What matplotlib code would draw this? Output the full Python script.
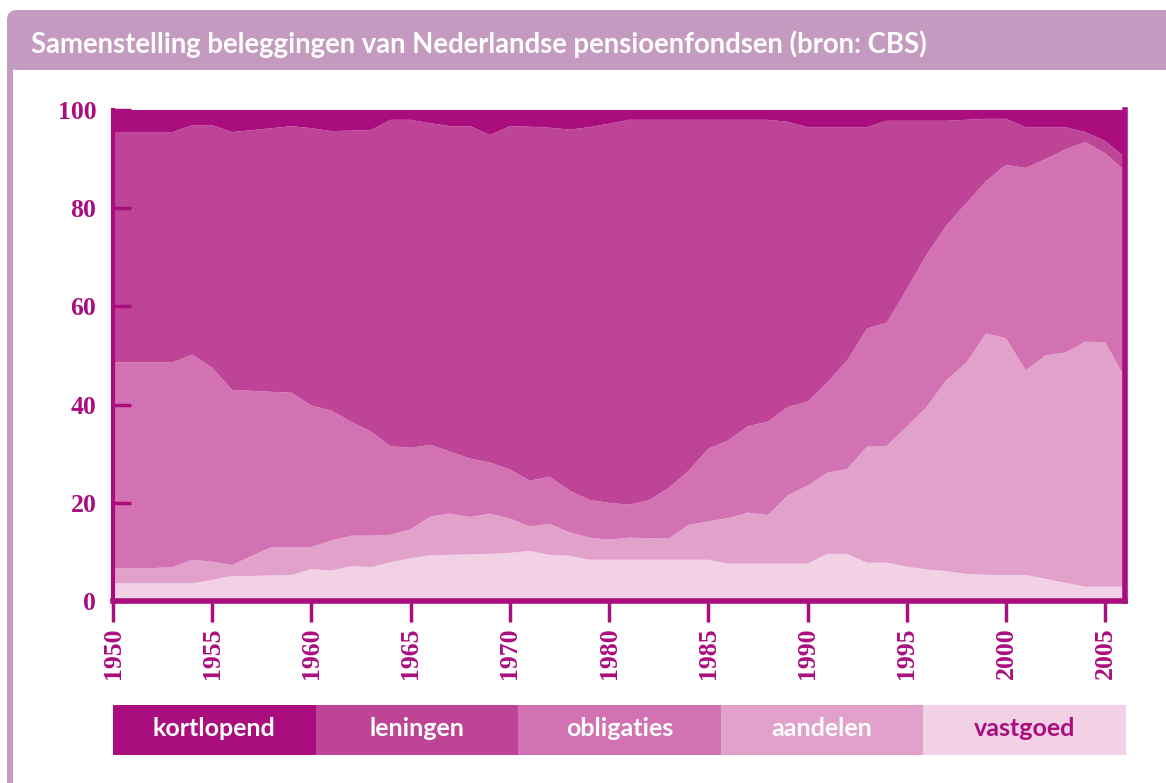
import matplotlib
matplotlib.use("Agg")
import matplotlib.pyplot as plt
from matplotlib.patches import Rectangle, FancyBboxPatch

# Jaren (1970-1980 in stappen van 2 jaar, op de as samengedrukt)
years = list(range(1950, 1971)) + [1972, 1974, 1976, 1978] + list(range(1980, 2007))

# Aandeel per beleggingscategorie (%)
vastgoed = [3.6, 3.6, 3.6, 3.6, 3.6, 4.3, 5.1, 5.1, 5.2, 5.3, 6.5, 6.2, 7.1, 6.9, 7.9, 8.7,
            9.3, 9.4, 9.5, 9.6, 9.8, 10.2, 9.4, 9.2, 8.4, 8.4, 8.4, 8.4, 8.4, 8.4, 8.4, 7.6,
            7.6, 7.6, 7.6, 7.6, 9.6, 9.6, 7.8, 7.8, 7.0, 6.4, 6.1, 5.5, 5.3, 5.3, 5.3, 4.5,
            3.7, 2.9, 2.9, 2.9]
aandelen = [3.1, 3.1, 3.1, 3.3, 4.8, 3.7, 2.2, 4.1, 5.8, 5.7, 4.5, 6.1, 6.2, 6.4, 5.6, 5.9,
            7.9, 8.4, 7.6, 8.2, 7.0, 5.0, 6.3, 4.8, 4.5, 4.1, 4.5, 4.4, 4.3, 7.1, 7.8, 9.3,
            10.4, 9.9, 13.9, 15.9, 16.5, 17.3, 23.6, 23.8, 28.5, 33.1, 38.9, 43.0, 49.2, 48.2,
            41.7, 45.5, 46.9, 49.9, 49.8, 42.6]
obligaties = [41.9, 41.9, 41.9, 41.7, 41.8, 39.5, 35.7, 33.6, 31.6, 31.4, 28.8, 26.5, 23.2,
              21.2, 18.0, 16.6, 14.6, 12.6, 11.9, 10.4, 10.0, 9.3, 9.6, 8.5, 7.7, 7.5, 6.7,
              7.7, 10.3, 11.0, 14.8, 15.8, 17.6, 19.0, 18.0, 17.1, 18.4, 22.1, 24.1, 25.1,
              28.0, 31.0, 31.5, 32.5, 31.0, 35.3, 41.2, 40.0, 41.4, 40.7, 38.5, 42.1]
leningen = [46.9, 46.9, 46.9, 46.9, 46.7, 49.4, 52.5, 53.1, 53.7, 54.3, 56.5, 56.9, 59.3,
            61.4, 66.5, 66.8, 65.5, 66.3, 67.7, 66.7, 69.9, 72.1, 71.1, 73.5, 75.9, 77.2,
            78.4, 77.5, 75.0, 71.5, 67.0, 65.3, 62.4, 61.5, 58.1, 55.9, 52.0, 47.5, 41.0,
            41.1, 34.3, 27.3, 21.3, 17.0, 12.7, 9.4, 8.3, 6.5, 4.5, 2.0, 2.5, 2.8]
kortlopend = [4.5, 4.5, 4.5, 4.5, 3.1, 3.1, 4.5, 4.1, 3.7, 3.3, 3.7, 4.3, 4.2, 4.1, 2.0, 2.0,
              2.7, 3.3, 3.3, 5.1, 3.3, 3.4, 3.6, 4.0, 3.5, 2.8, 2.0, 2.0, 2.0, 2.0, 2.0, 2.0,
              2.0, 2.0, 2.4, 3.5, 3.5, 3.5, 3.5, 2.2, 2.2, 2.2, 2.2, 2.0, 1.8, 1.8, 3.5, 3.5,
              3.5, 4.5, 6.3, 9.6]

categories = ["kortlopend", "leningen", "obligaties", "aandelen", "vastgoed"]
colors = ["#AA0E7E", "#BE4498", "#D272B2", "#E2A1CB", "#F2D0E6"]
tick_years = [1950, 1955, 1960, 1965, 1970, 1980, 1985, 1990, 1995, 2000, 2005]

title = "Samenstelling beleggingen van Nederlandse pensioenfondsen (bron: CBS)"
magenta = "#AA0E7E"
frame = "#C49AC0"


def as_pos(year):
    # jaren 70 staan in halve stappen op de as
    if year <= 1970:
        return year - 1950
    if year <= 1980:
        return 20 + (year - 1970) / 2
    return year - 1955


W, H = 1166, 783
fig = plt.figure(figsize=(W / 100, H / 100), dpi=100)

# kader en titelbalk
fig.patches.append(Rectangle((7 / W, 0), 5.5 / W, (H - 60) / H, transform=fig.transFigure,
                             facecolor=frame, edgecolor="none", zorder=0))
fig.patches.append(FancyBboxPatch((7, H - 70), W + 20, 60,
                                  boxstyle="round,pad=0,rounding_size=10",
                                  transform=None, facecolor=frame, edgecolor="none", zorder=0))
fig.text(31 / W, 1 - 44 / H, title, color="white", fontsize=19.8, fontweight="bold",
         family="Lato", va="center", ha="left")

ax = fig.add_axes([113 / W, (H - 601) / H, (1125 - 113) / W, (601 - 110) / H])
x = [as_pos(y) for y in years]
series = [vastgoed, aandelen, obligaties, leningen, kortlopend]
ax.stackplot(x, series, colors=colors[::-1], linewidth=0)

ax.set_xlim(0, as_pos(years[-1]))
ax.set_ylim(0, 100)

for side in ["left", "bottom", "right"]:
    ax.spines[side].set_color(magenta)
ax.spines["left"].set_linewidth(3)
ax.spines["bottom"].set_linewidth(4)
ax.spines["right"].set_linewidth(4)
ax.spines["top"].set_visible(False)

ax.set_yticks([0, 20, 40, 60, 80, 100])
ax.set_xticks([as_pos(y) for y in tick_years])
ax.set_xticklabels([str(y) for y in tick_years], rotation=90)
ax.tick_params(axis="y", direction="in", length=13, width=2.5, color=magenta,
               labelcolor=magenta, pad=12)
ax.tick_params(axis="x", direction="out", length=15, width=2.5, color=magenta,
               labelcolor=magenta, pad=4)
for lab in ax.get_xticklabels() + ax.get_yticklabels():
    lab.set_family("Liberation Serif")
    lab.set_fontweight("bold")
    lab.set_fontsize(18.5)

# legenda als gekleurde vakken
bw = (1126 - 113) / len(categories)
for i, (cat, col) in enumerate(zip(categories, colors)):
    x0 = 113 + i * bw
    fig.patches.append(Rectangle((x0 / W, (H - 755) / H), bw / W, 50 / H,
                                 transform=fig.transFigure, facecolor=col, edgecolor="none"))
    fig.text((x0 + bw / 2) / W, 1 - 729 / H, cat, ha="center", va="center",
             color=magenta if i == len(categories) - 1 else "white",
             fontsize=18, fontweight="bold", family="Lato")

fig.savefig("out.png", dpi=100)
